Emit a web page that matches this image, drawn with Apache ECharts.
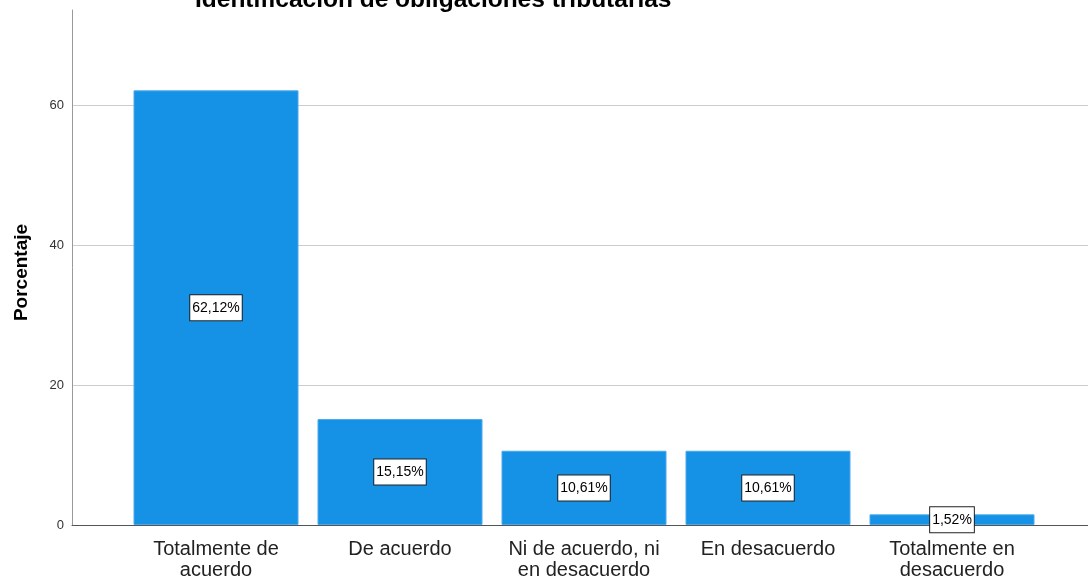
<!DOCTYPE html>
<html>
<head>
<meta charset="utf-8">
<title>Identificación de obligaciones tributarias</title>
<script src="https://cdn.jsdelivr.net/npm/echarts@6/dist/echarts.min.js"></script>
<style>
  html, body { margin: 0; padding: 0; background: #fff; }
  #chart { width: 1088px; height: 580px; }
</style>
</head>
<body>
<div id="chart"></div>
<script>
// categorías del eje x
var categories = [
  'Totalmente de\nacuerdo',
  'De acuerdo',
  'Ni de acuerdo, ni\nen desacuerdo',
  'En desacuerdo',
  'Totalmente en\ndesacuerdo'
]
// porcentajes
var percentages = [62.12, 15.15, 10.61, 10.61, 1.52]
var yTicks = [0, 20, 40, 60]

var yMax = 73.6
var gridColor = '#cdcdcd'

var chart = echarts.init(document.getElementById('chart'), null, { renderer: 'canvas' })

chart.setOption({
  animation: false,
  backgroundColor: '#fff',
  textStyle: { fontFamily: 'Arial, "Liberation Sans", sans-serif' },

  title: {
    text: 'Identificación de obligaciones tributarias',
    left: 195,
    top: -12,
    padding: 0,
    textStyle: { fontSize: 24.5, fontWeight: 'bold', color: '#000' }
  },

  // grid 0: ejes y líneas de cuadrícula, grid 1: barras (con márgenes laterales)
  // outerBoundsMode none: que el grid no se achique por las etiquetas
  grid: [
    { left: 72, right: 0, top: 10, bottom: 55, outerBoundsMode: 'none' },
    { left: 124, right: 44, top: 10, bottom: 55, outerBoundsMode: 'none' }
  ],

  xAxis: [
    {
      gridIndex: 0,
      type: 'category',
      data: [''],
      axisLine: { lineStyle: { color: '#555', width: 1 } },
      axisTick: { show: false },
      axisLabel: { show: false }
    },
    {
      gridIndex: 1,
      type: 'category',
      data: categories,
      axisLine: { show: false },
      axisTick: { show: false },
      axisLabel: {
        margin: 14,
        fontSize: 20,
        lineHeight: 21,
        color: '#222',
        interval: 0
      }
    }
  ],

  yAxis: [
    {
      gridIndex: 0,
      type: 'value',
      min: 0,
      max: yMax,
      interval: 20,
      name: 'Porcentaje',
      nameLocation: 'middle',
      nameGap: 41,
      nameTextStyle: { fontSize: 19, fontWeight: 'bold', color: '#000', padding: [0, 10, 0, 0] },
      axisLine: { show: true, lineStyle: { color: '#999' } },
      axisTick: { show: false },
      axisLabel: {
        margin: 8,
        fontSize: 13,
        color: '#333',
        showMaxLabel: false,
        formatter: function (v) { return yTicks.indexOf(v) >= 0 ? String(v) : '' }
      },
      splitLine: {
        show: true,
        lineStyle: { color: [gridColor, gridColor, gridColor, gridColor, 'rgba(0,0,0,0)'], width: 1 }
      }
    },
    {
      gridIndex: 1,
      type: 'value',
      min: 0,
      max: yMax,
      interval: 20,
      show: false,
      splitLine: { show: false }
    }
  ],

  series: [
    {
      type: 'bar',
      xAxisIndex: 1,
      yAxisIndex: 1,
      data: percentages,
      barWidth: 165,
      itemStyle: { color: '#1591e6', borderColor: '#4aa9ec', borderWidth: 1 },
      label: {
        show: true,
        position: 'inside',
        formatter: function (p) { return p.value.toFixed(2).replace('.', ',') + '%' },
        fontSize: 14,
        color: '#000',
        backgroundColor: '#fff',
        borderColor: '#222',
        borderWidth: 1,
        padding: [6, 2, 5, 2]
      }
    }
  ]
})
</script>
</body>
</html>
